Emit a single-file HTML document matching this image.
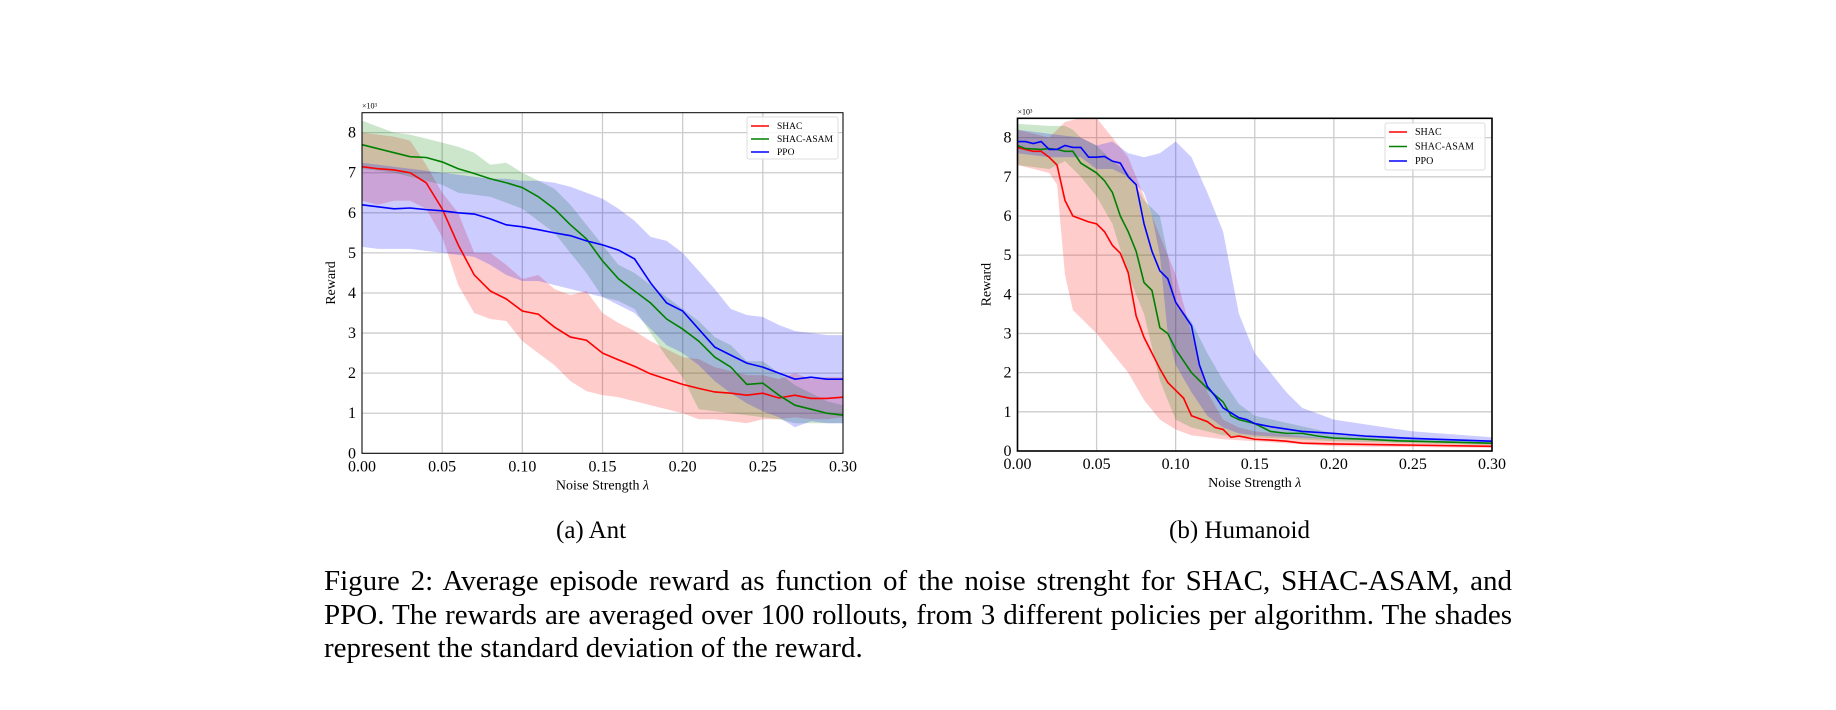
<!DOCTYPE html>
<html><head><meta charset="utf-8"><style>
body{margin:0;background:#fff;width:1836px;height:710px;overflow:hidden;font-family:"Liberation Serif",serif}
svg{position:absolute;left:0;top:0}
.cap{position:absolute;font-size:27px;color:#000;white-space:nowrap}
.ln{position:absolute;left:324px;width:1188px;font-size:29px;line-height:34px;white-space:nowrap;color:#000}
.j{text-align:justify;text-align-last:justify}
</style></head><body>
<svg id="s" width="1836" height="710" xmlns="http://www.w3.org/2000/svg" font-family="Liberation Serif, serif"></svg>
<div class="cap" style="left:556px;top:517px;font-size:25px">(a) Ant</div>
<div class="cap" style="left:1169px;top:517px;font-size:25px">(b) Humanoid</div>
<div class="ln j" style="top:564px">Figure 2: Average episode reward as function of the noise strenght for SHAC, SHAC-ASAM, and</div>
<div class="ln j" style="top:598px">PPO. The rewards are averaged over 100 rollouts, from 3 different policies per algorithm. The shades</div>
<div class="ln" style="top:631px">represent the standard deviation of the reward.</div>
<script>
const S=document.getElementById('s');let h='';
function seq(a){return a.map((v,i)=>[i*0.01,v]);}
function plot(P){
 const X=x=>P.l+(P.r-P.l)*x/0.3, Y=y=>P.b-y*P.u;
 for(let i=0;i<=6;i++){const x=X(i*0.05);h+=`<line x1="${x}" y1="${P.t}" x2="${x}" y2="${P.b}" stroke="#ccc" stroke-width="1.3"/>`;
  h+=`<text x="${x}" y="${P.b+18}" font-size="16" text-anchor="middle">${(i*0.05).toFixed(2)}</text>`;}
 for(let i=0;i<=8;i++){const y=Y(i);h+=`<line x1="${P.l}" y1="${y}" x2="${P.r}" y2="${y}" stroke="#ccc" stroke-width="1.3"/>`;
  h+=`<text x="${P.l-6}" y="${y+5}" font-size="16" text-anchor="end">${i}</text>`;}
 const cols=['#ff0000','#008000','#0000ff'];
 P.s.forEach((s,k)=>{
  const up=s.u.map(p=>X(p[0])+','+Y(p[1])).join(' ');
  const lo=s.d.slice().reverse().map(p=>X(p[0])+','+Y(p[1])).join(' ');
  h+=`<polygon points="${up} ${lo}" fill="${cols[k]}" fill-opacity="0.2"/>`;});
 P.s.forEach((s,k)=>{h+=`<polyline points="${s.m.map(p=>X(p[0])+','+Y(p[1])).join(' ')}" fill="none" stroke="${cols[k]}" stroke-width="1.6"/>`;});
 h+=`<rect x="${P.l}" y="${P.t}" width="${P.r-P.l}" height="${P.b-P.t}" fill="none" stroke="#000" stroke-width="${P.bw}"/>`;
 h+=`<text x="${P.l}" y="${P.t-4}" font-size="8">×10³</text>`;
 const cy=(P.t+P.b)/2, ly=P.l-27;
 h+=`<text x="${ly}" y="${cy}" font-size="14" text-anchor="middle" transform="rotate(-90 ${ly} ${cy})">Reward</text>`;
 h+=`<text x="${(P.l+P.r)/2}" y="${P.b+36}" font-size="14" text-anchor="middle">Noise Strength <tspan font-style="italic">λ</tspan></text>`;
 const L=P.leg;h+=`<rect x="${L[0]}" y="${L[1]}" width="${L[2]}" height="${L[3]}" fill="#fff" fill-opacity="0.85" stroke="#ddd" rx="2"/>`;
 ['SHAC','SHAC-ASAM','PPO'].forEach((n,k)=>{const y=L[1]+9+k*L[4];
  h+=`<line x1="${L[0]+4}" y1="${y}" x2="${L[0]+22}" y2="${y}" stroke="${cols[k]}" stroke-width="1.6"/>`;
  h+=`<text x="${L[0]+30}" y="${y+3}" font-size="${L[5]}">${n}</text>`;});
}
plot({l:362,r:843,t:112.7,b:453.3,u:40.08,bw:1,leg:[747,117,91,42,13,9.5],s:[
 {m:seq([7.15,7.1,7.07,7.0,6.75,6.1,5.2,4.45,4.05,3.85,3.55,3.47,3.15,2.9,2.82,2.5,2.33,2.17,1.98,1.85,1.72,1.62,1.53,1.5,1.45,1.5,1.38,1.45,1.37,1.37,1.4]),
  u:seq([8.0,7.95,7.9,7.8,7.2,6.5,6.0,5.0,5.0,4.7,4.35,4.45,4.1,3.95,4.05,3.5,3.25,3.05,2.8,2.6,2.4,2.35,2.15,2.05,1.95,1.95,1.85,2.0,1.85,1.9,1.9]),
  d:seq([6.3,6.2,6.3,6.3,6.1,5.4,4.2,3.5,3.35,3.3,2.8,2.5,2.2,1.8,1.55,1.45,1.4,1.3,1.2,1.1,1.0,0.85,0.85,0.8,0.75,0.85,0.85,0.9,0.85,0.85,0.9])},
 {m:seq([7.7,7.6,7.5,7.4,7.38,7.27,7.1,6.98,6.85,6.75,6.63,6.4,6.1,5.7,5.35,4.8,4.35,4.05,3.75,3.35,3.1,2.8,2.4,2.15,1.72,1.75,1.45,1.2,1.1,1.0,0.95]),
  u:seq([8.3,8.15,8.0,7.95,7.85,7.75,7.65,7.5,7.2,7.25,7.0,6.8,6.6,6.2,5.7,5.2,4.7,4.5,4.2,3.9,3.6,3.3,2.9,2.7,2.3,2.3,2.0,1.7,1.5,1.3,1.2]),
  d:seq([7.1,7.05,7.0,6.9,6.8,6.7,6.5,6.45,6.4,6.25,6.1,5.8,5.5,5.0,4.5,3.9,3.8,3.6,3.0,2.4,1.9,1.1,1.05,1.0,0.95,0.9,0.85,0.75,0.75,0.75,0.75])},
 {m:seq([6.2,6.15,6.1,6.12,6.08,6.05,6.0,5.97,5.85,5.7,5.65,5.58,5.5,5.43,5.3,5.2,5.07,4.85,4.25,3.75,3.55,3.1,2.65,2.45,2.25,2.15,2.0,1.85,1.9,1.85,1.85]),
  u:seq([7.25,7.2,7.15,7.1,7.05,7.0,6.95,6.9,6.85,6.85,6.8,6.8,6.75,6.65,6.5,6.35,6.1,5.8,5.4,5.3,5.0,4.55,4.1,3.6,3.45,3.4,3.2,3.05,3.0,2.95,2.95]),
  d:seq([5.15,5.1,5.1,5.1,5.05,5.0,4.95,4.9,4.7,4.45,4.3,4.3,4.2,4.1,4.0,3.9,3.7,3.5,3.1,2.7,2.5,2.2,1.8,1.5,1.25,1.05,0.9,0.65,0.8,0.75,0.75])}]});
plot({l:1017.5,r:1492,t:118.3,b:451,u:39.17,bw:1.6,leg:[1385,123,100,47,14.5,10],s:[
 {m:[[0,7.75],[.01,7.65],[.015,7.65],[.02,7.5],[.025,7.3],[.03,6.4],[.035,6.0],[.045,5.85],[.05,5.8],[.055,5.6],[.06,5.25],[.065,5.05],[.07,4.55],[.075,3.45],[.08,2.9],[.09,2.1],[.095,1.75],[.1,1.55],[.105,1.35],[.11,0.9],[.12,0.75],[.125,0.6],[.13,0.55],[.135,0.35],[.14,0.38],[.15,0.3],[.16,0.28],[.17,0.25],[.18,0.2],[.2,0.18],[.25,0.15],[.3,0.12]],
  u:[[0,8.2],[.02,8.0],[.03,8.4],[.04,8.5],[.05,8.5],[.06,8.0],[.07,7.5],[.08,6.5],[.09,5.5],[.1,4.5],[.11,3.0],[.12,1.5],[.13,0.8],[.14,0.6],[.15,0.5],[.2,0.3],[.3,0.2]],
  d:[[0,7.3],[.02,7.1],[.025,6.8],[.03,4.5],[.035,3.6],[.05,3.0],[.06,2.5],[.07,2.0],[.08,1.3],[.09,0.8],[.1,0.55],[.11,0.4],[.12,0.35],[.13,0.3],[.15,0.25],[.2,0.12],[.3,0.08]]},
 {m:[[0,7.8],[.005,7.72],[.015,7.7],[.02,7.72],[.025,7.7],[.03,7.65],[.035,7.65],[.04,7.35],[.05,7.1],[.055,6.9],[.06,6.6],[.065,6.0],[.07,5.6],[.075,5.1],[.08,4.3],[.085,4.1],[.09,3.15],[.095,3.0],[.1,2.6],[.11,2.0],[.12,1.6],[.13,1.25],[.135,0.9],[.14,0.8],[.15,0.7],[.155,0.6],[.16,0.5],[.17,0.45],[.18,0.45],[.19,0.38],[.2,0.33],[.22,0.3],[.24,0.26],[.3,0.2]],
  u:[[0,8.35],[.02,8.3],[.03,8.3],[.035,8.2],[.04,8.0],[.05,7.8],[.06,7.4],[.07,7.1],[.08,6.4],[.09,6.0],[.095,5.0],[.1,3.8],[.11,3.3],[.12,2.5],[.13,1.8],[.14,1.2],[.15,0.9],[.2,0.45],[.3,0.25]],
  d:[[0,7.3],[.02,7.2],[.03,7.4],[.04,7.0],[.05,6.5],[.06,5.8],[.07,4.5],[.08,3.5],[.09,1.8],[.1,0.8],[.11,0.6],[.12,0.5],[.13,0.4],[.15,0.35],[.2,0.25],[.3,0.15]]},
 {m:[[0,7.9],[.005,7.9],[.01,7.85],[.015,7.9],[.02,7.7],[.025,7.7],[.03,7.8],[.035,7.75],[.04,7.75],[.045,7.5],[.05,7.5],[.055,7.52],[.06,7.4],[.065,7.35],[.07,7.0],[.075,6.8],[.08,5.8],[.085,5.1],[.09,4.6],[.095,4.4],[.1,3.8],[.105,3.5],[.11,3.2],[.115,2.2],[.12,1.65],[.125,1.4],[.13,1.1],[.14,0.85],[.145,0.8],[.15,0.7],[.16,0.62],[.18,0.5],[.2,0.45],[.22,0.38],[.25,0.32],[.3,0.25]],
  u:[[0,8.2],[.02,8.1],[.04,8.0],[.05,7.8],[.06,7.9],[.07,7.6],[.08,7.5],[.09,7.6],[.1,7.9],[.105,7.7],[.11,7.5],[.12,6.6],[.13,5.6],[.14,3.5],[.15,2.5],[.16,2.0],[.17,1.5],[.18,1.1],[.2,0.8],[.25,0.5],[.3,0.35]],
  d:[[0,7.6],[.02,7.5],[.04,7.5],[.05,7.2],[.06,7.2],[.07,7.0],[.08,6.6],[.085,6.0],[.09,5.0],[.095,3.0],[.1,2.2],[.11,1.5],[.12,0.9],[.13,0.6],[.14,0.45],[.15,0.4],[.2,0.3],[.3,0.18]]}]});
S.innerHTML=h;
</script>
</body></html>
